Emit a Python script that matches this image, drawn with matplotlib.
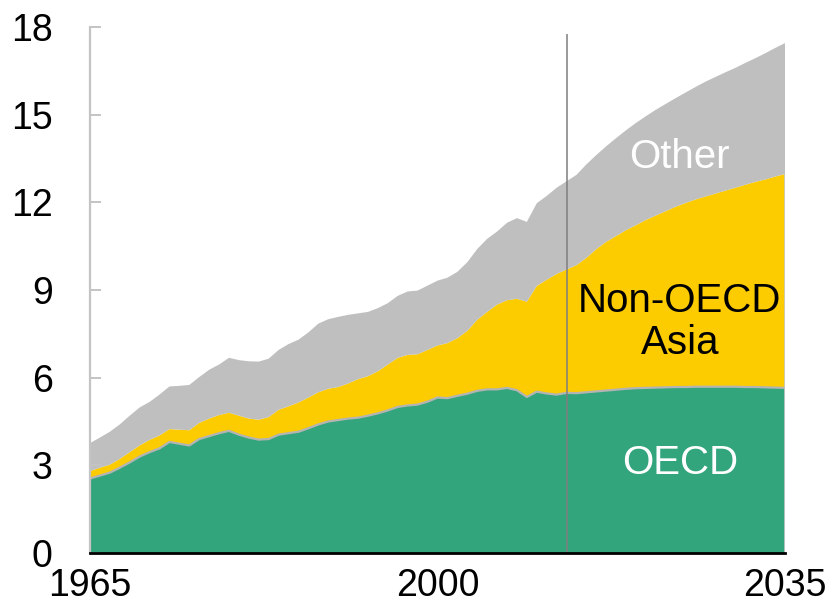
import matplotlib
matplotlib.use("Agg")
import matplotlib.pyplot as plt
import numpy as np

years = list(range(1965, 2036))

oecd = [2.55, 2.65, 2.75, 2.92, 3.10, 3.30, 3.45, 3.58, 3.80, 3.74,
        3.68, 3.90, 4.00, 4.10, 4.18, 4.05, 3.95, 3.88, 3.90, 4.05,
        4.10, 4.15, 4.27, 4.40, 4.50, 4.55, 4.60, 4.63, 4.70, 4.78,
        4.88, 5.00, 5.05, 5.08, 5.18, 5.32, 5.30, 5.38, 5.45, 5.55,
        5.60, 5.60, 5.65, 5.57, 5.34, 5.52, 5.46, 5.42, 5.48, 5.47,
        5.50, 5.53, 5.56, 5.59, 5.62, 5.64, 5.65, 5.66, 5.67, 5.68,
        5.68, 5.69, 5.69, 5.69, 5.69, 5.69, 5.68, 5.68, 5.67, 5.66,
        5.65]

non_oecd_asia = [0.25, 0.27, 0.27, 0.30, 0.35, 0.38, 0.42, 0.44, 0.44, 0.48,
                 0.52, 0.55, 0.60, 0.62, 0.62, 0.65, 0.65, 0.68, 0.75, 0.85,
                 0.92, 1.00, 1.05, 1.10, 1.12, 1.13, 1.20, 1.32, 1.35, 1.44,
                 1.57, 1.68, 1.73, 1.72, 1.77, 1.78, 1.88, 1.97, 2.15, 2.43,
                 2.65, 2.90, 3.00, 3.13, 3.26, 3.62, 3.89, 4.13, 4.22, 4.38,
                 4.60, 4.87, 5.09, 5.26, 5.43, 5.58, 5.75, 5.89, 6.03, 6.17,
                 6.30, 6.41, 6.51, 6.61, 6.71, 6.81, 6.92, 7.02, 7.11, 7.22,
                 7.32]

other = [0.96, 1.03, 1.13, 1.18, 1.25, 1.30, 1.30, 1.40, 1.46, 1.50,
         1.55, 1.57, 1.67, 1.73, 1.88, 1.90, 1.96, 1.99, 2.00, 2.05,
         2.13, 2.15, 2.23, 2.35, 2.38, 2.40, 2.35, 2.25, 2.20, 2.16,
         2.10, 2.12, 2.17, 2.18, 2.20, 2.22, 2.24, 2.27, 2.35, 2.42,
         2.50, 2.50, 2.65, 2.76, 2.73, 2.83, 2.87, 2.95, 3.02, 3.09,
         3.20, 3.22, 3.27, 3.35, 3.42, 3.50, 3.55, 3.62, 3.67, 3.72,
         3.78, 3.85, 3.93, 3.99, 4.05, 4.10, 4.17, 4.23, 4.32, 4.40,
         4.48]

series_labels = ["OECD", "Non-OECD\nAsia", "Other"]
x_ticks = [1965, 2000, 2035]
y_ticks = [0, 3, 6, 9, 12, 15, 18]
base_year = 2013

GREEN = "#33a57c"
YELLOW = "#fccc00"
GREY = "#bfbfbf"

plt.rcParams['font.family'] = ['Liberation Sans', 'DejaVu Sans']

fig = plt.figure(figsize=(8.34, 6.11), dpi=100)
ax = fig.add_axes([90/834, 58/611, 695/834, 526/611])

ax.stackplot(years, oecd, non_oecd_asia, other,
             colors=[GREEN, YELLOW, GREY], linewidth=0, edgecolor='none')
ax.plot(years, oecd, color="#b4b4b4", lw=1.6, solid_capstyle='butt')
top_asia = np.array(oecd) + np.array(non_oecd_asia)
ax.vlines(years[-1], 0, top_asia[-1], color="#c8c8c8", lw=1.2)

ax.vlines(base_year, 0, 17.75, color="#7f7f7f", lw=1.1, zorder=5)

ax.set_xlim(1965, 2035)
ax.set_ylim(0, 18)
ax.set_xticks(x_ticks)
ax.set_yticks(y_ticks)

for s in ['top', 'right']:
    ax.spines[s].set_visible(False)
ax.spines['left'].set_color("#c4c4c4")
ax.spines['left'].set_linewidth(1.6)
ax.spines['bottom'].set_color("black")
ax.spines['bottom'].set_linewidth(2.0)
ax.spines['bottom'].set_zorder(6)

ax.tick_params(axis='y', direction='in', length=8, width=1.4, color="#c4c4c4",
               labelsize=27, pad=27)
ax.tick_params(axis='x', length=0, labelsize=27, pad=11)

ax.text(2024.4, 13.55, series_labels[2], color='white', fontsize=29,
        ha='center', va='center')
ax.text(2024.4, 7.9, series_labels[1], color='black', fontsize=29,
        ha='center', va='center', linespacing=1.15)
ax.text(2024.4, 3.08, series_labels[0], color='white', fontsize=29,
        ha='center', va='center')

fig.savefig("out.png", dpi=100)
